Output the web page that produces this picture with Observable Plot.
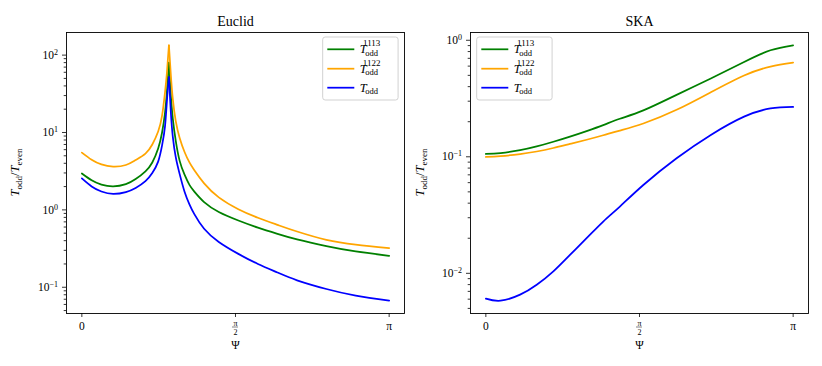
<!DOCTYPE html>
<html><head><meta charset="utf-8">
<script src="https://cdn.jsdelivr.net/npm/d3@7"></script>
<script src="https://cdn.jsdelivr.net/npm/@observablehq/plot@0.6"></script>
<style>
body{margin:0;background:#fff;}
#wrap{display:flex;width:822px;height:366px;}
svg{display:block;}
</style></head><body><div id="wrap"></div>
<script>
const FONT = "'Liberation Serif', 'DejaVu Serif', serif";
const seriesNames = ["T1113", "T1122", "Todd"];
const seriesColors = ["green", "orange", "blue"];
const legendSup = ["1113", "1122", null];
const psiTicks = [0, Math.PI / 2, Math.PI];

// Euclid panel
const euclidPsi   = [0, 0.1, 0.2, 0.32, 0.45, 0.55, 0.65, 0.72, 0.78, 0.82, 0.85, 0.87, 0.89, 0.91, 0.93, 0.96, 1.0, 1.05, 1.1, 1.15, 1.25, 1.4, 1.6, 1.8, 2.0, 2.2, 2.5, 2.8, 3.1416];
const euclidT1113 = [2.95, 2.41, 2.12, 2.01, 2.15, 2.5, 3.15, 4.1, 6.2, 10, 18, 34, 80, 30, 15, 7.8, 4.3, 2.85, 2.1, 1.72, 1.26, 0.94, 0.73, 0.59, 0.49, 0.415, 0.34, 0.29, 0.255];
const euclidT1122 = [5.5, 4.45, 3.87, 3.63, 3.8, 4.4, 5.33, 7.0, 10.3, 16.5, 33, 60, 134, 55, 27, 14, 8.5, 5.6, 4.1, 3.25, 2.2, 1.45, 1.02, 0.79, 0.64, 0.525, 0.41, 0.355, 0.32];
const euclidTodd  = [2.55, 2.01, 1.73, 1.61, 1.7, 1.92, 2.35, 3.0, 4.2, 6.8, 12, 26, 52, 18, 8.8, 4.8, 2.9, 1.72, 1.18, 0.88, 0.57, 0.385, 0.27, 0.2, 0.155, 0.123, 0.095, 0.078, 0.067];
const euclidPeakPsi = 0.89;
const euclidYDomain = [0.0458, 196];
const euclidMajor = [0.1, 1, 10, 100];

// SKA panel
const skaPsi   = [0, 0.15, 0.35, 0.52, 0.69, 0.86, 1.03, 1.2, 1.37, 1.61, 1.95, 2.3, 2.64, 2.91, 3.1416];
const skaT1113 = [0.1057, 0.1077, 0.114, 0.1227, 0.1346, 0.149, 0.1663, 0.187, 0.212, 0.25, 0.340, 0.470, 0.652, 0.821, 0.906];
const skaT1122 = [0.0996, 0.1012, 0.1055, 0.111, 0.119, 0.129, 0.140, 0.153, 0.168, 0.193, 0.253, 0.358, 0.499, 0.595, 0.644];
const skaTodd  = [0.00606, 0.00582, 0.00656, 0.00798, 0.0104, 0.0144, 0.0200, 0.0278, 0.0374, 0.0573, 0.0971, 0.154, 0.221, 0.260, 0.268];
const skaYDomain = [0.00452, 1.166];
const skaMajor = [0.01, 0.1, 1];

function rows(psi, arrays, peak) {
  const out = [];
  arrays.forEach((arr, i) => arr.forEach((v, j) => {
    const p = psi[j];
    if (peak == null) { out.push({psi: p, value: v, series: seriesNames[i], branch: "A"}); return; }
    if (p <= peak) out.push({psi: p, value: v, series: seriesNames[i], branch: "L"});
    if (p >= peak) out.push({psi: p, value: v, series: seriesNames[i], branch: "R"});
  }));
  return out;
}
function minorTicks(lo, hi) {
  const t = [];
  for (let e = Math.floor(Math.log10(lo)); e <= Math.ceil(Math.log10(hi)); e++)
    for (let m = 2; m <= 9; m++) { const v = +(m * Math.pow(10, e)).toPrecision(6); if (v >= lo && v <= hi) t.push(v); }
  return t;
}

function mathT(g, x, y, sup, sub) {
  g.append("text").attr("x", x).attr("y", y).attr("font-style", "italic").attr("font-size", 12.5).text("T");
  if (sup) g.append("text").attr("x", x + 8.4).attr("y", y - 7).attr("font-size", 9).text(sup);
  g.append("text").attr("x", x + 8.4).attr("y", y + 2.5).attr("font-size", 8.5).text(sub);
}

function panel(cfg) {
  const data = rows(cfg.psi, cfg.series, cfg.peak);
  const plot = Plot.plot({
    width: 411, height: 366,
    marginTop: 32, marginBottom: 53, marginLeft: cfg.ml, marginRight: cfg.mr,
    style: {fontFamily: FONT, fontSize: "11.5px", background: "white", color: "black", overflow: "visible"},
    x: {domain: [-0.157, 3.2986], axis: null},
    y: {type: "log", domain: cfg.yDomain, axis: null},
    color: {domain: seriesNames, range: seriesColors},
    marks: [
      Plot.axisY({ticks: minorTicks(cfg.yDomain[0], cfg.yDomain[1]), tickSize: 2.3, tickFormat: () => "", label: null, strokeWidth: 0.8}),
      Plot.axisY({ticks: cfg.major, tickSize: 4, tickPadding: 4.5, tickFormat: d => "10^" + Math.round(Math.log10(d)), label: null, strokeWidth: 0.8, fontSize: 11.5}),
      Plot.axisX({ticks: psiTicks, tickSize: 4, tickFormat: () => "", label: null, strokeWidth: 0.8}),
      Plot.line(data, {x: "psi", y: "value", z: d => d.series + d.branch, stroke: "series", strokeWidth: 1.75, curve: "natural"}),
      Plot.frame({stroke: "black", strokeWidth: 0.9}),
      Plot.text([{v: 0, t: "0"}, {v: Math.PI, t: "π"}], {x: "v", text: "t", frameAnchor: "bottom", lineAnchor: "top", dy: 8.5, fontSize: 11.5}),
      Plot.text([{v: Math.PI / 2, t: "π"}], {x: "v", text: "t", frameAnchor: "bottom", lineAnchor: "middle", dy: 9.5, fontSize: 8}),
      Plot.text([{v: Math.PI / 2, t: "2"}], {x: "v", text: "t", frameAnchor: "bottom", lineAnchor: "middle", dy: 19, fontSize: 8}),
      Plot.text([cfg.title], {text: d => d, frameAnchor: "top", lineAnchor: "bottom", dy: -7, fontSize: 14}),
      Plot.text(["Ψ"], {text: d => d, frameAnchor: "bottom", lineAnchor: "top", dy: 27, fontSize: 11.5})
    ]
  });
  const svg = d3.select(plot);
  // superscript exponents on y tick labels
  svg.selectAll("text").each(function () {
    const m = /^10\^(-?\d+)$/.exec(this.textContent);
    if (!m) return;
    const el = d3.select(this);
    el.text(null);
    el.append("tspan").text("10");
    el.append("tspan").attr("font-size", "8px").attr("dy", "-0.5em").text(m[1].replace("-", "−"));
  });
  const xs = plot.scale("x");
  const fx = xs.apply(Math.PI / 2);
  svg.append("line").attr("x1", fx - 3).attr("x2", fx + 3).attr("y1", 313 + 14).attr("y2", 313 + 14)
    .attr("stroke", "black").attr("stroke-width", 0.5);
  // y label
  const yl = svg.append("text").attr("transform", `translate(${cfg.ylx},172.5) rotate(-90)`)
    .attr("text-anchor", "middle").attr("font-family", FONT).attr("font-size", 12.5);
  yl.append("tspan").attr("font-style", "italic").text("T");
  yl.append("tspan").attr("font-size", 9).attr("dy", 2.5).text("odd");
  yl.append("tspan").attr("dy", -2.5).text("/");
  yl.append("tspan").attr("font-style", "italic").text("T");
  yl.append("tspan").attr("font-size", 9).attr("dy", 2.5).text("even");
  // legend
  const lg = svg.append("g").attr("font-family", FONT);
  lg.append("rect").attr("x", cfg.lx).attr("y", 37).attr("width", 75.4).attr("height", 63).attr("rx", 2.5)
    .attr("fill", "white").attr("fill-opacity", 0.8).attr("stroke", "#cccccc").attr("stroke-width", 0.9);
  const rowsY = [49.3, 68.7, 87.7];
  seriesNames.forEach((s, i) => {
    lg.append("line").attr("x1", cfg.lx + 4.6).attr("x2", cfg.lx + 31.6).attr("y1", rowsY[i]).attr("y2", rowsY[i])
      .attr("stroke", seriesColors[i]).attr("stroke-width", 1.75);
    mathT(lg, cfg.lx + 40.6, rowsY[i] + 4, legendSup[i], "odd");
  });
  return plot;
}

const wrap = document.getElementById("wrap");
wrap.appendChild(panel({title: "Euclid", psi: euclidPsi, series: [euclidT1113, euclidT1122, euclidTodd], peak: euclidPeakPsi,
  yDomain: euclidYDomain, major: euclidMajor, ml: 66, mr: 7, ylx: 19, lx: 322.7}));
wrap.appendChild(panel({title: "SKA", psi: skaPsi, series: [skaT1113, skaT1122, skaTodd], peak: null,
  yDomain: skaYDomain, major: skaMajor, ml: 59, mr: 14, ylx: 13, lx: 65.7}));
</script></body></html>
